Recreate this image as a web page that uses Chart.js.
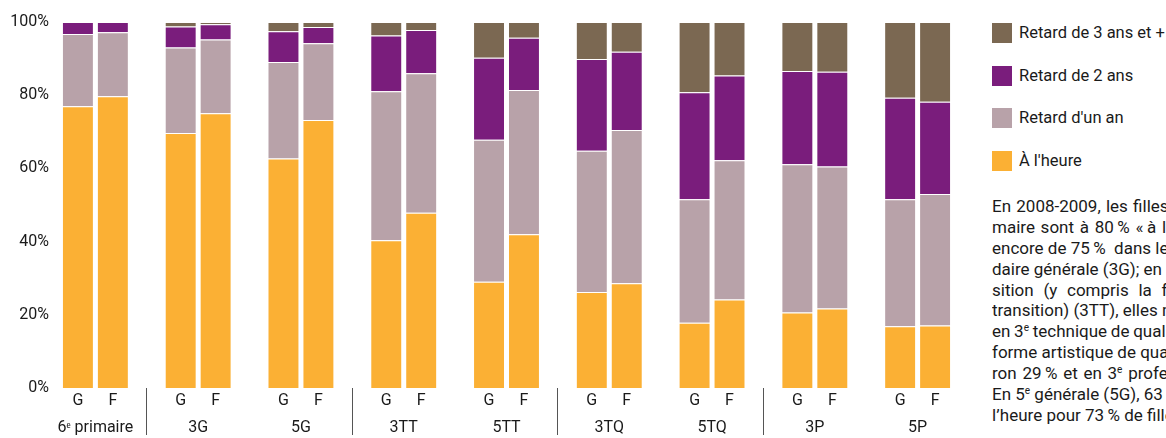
<!DOCTYPE html>
<html><head><meta charset="utf-8">
<script src="https://cdn.jsdelivr.net/npm/chart.js@4.4.1/dist/chart.umd.min.js"></script>
<style>
html,body{margin:0;padding:0;background:#fff;width:1166px;height:438px;overflow:hidden;font-family:Roboto,"Open Sans",sans-serif;color:#1a1a1a}
#wrap{position:absolute;left:0;top:0;width:975px;height:438px}
#legend{position:absolute;left:992px;top:23px;width:174px;height:160px}
.li{position:absolute;left:0;height:20px;white-space:nowrap}
.sw{position:absolute;left:0;top:0;width:20px;height:20px}
.lt{position:absolute;left:27px;top:-1px;font-size:16.5px;line-height:22px}
#para{position:absolute;left:992px;top:196px;width:174px;font-size:17px;line-height:20.9px;overflow:hidden}
#para div{height:20.9px;white-space:nowrap}
.sup{font-size:10px;position:relative;top:-6px}
</style></head>
<body>
<div id="wrap"><canvas id="c" width="975" height="438"></canvas></div>
<div id="legend"></div>
<div id="para">
<div style="word-spacing:1px">En 2008-2009, les filles de 6<span class="sup">e</span> pri-</div>
<div style="word-spacing:1.5px">maire sont à 80&#8201;% «&#8201;à l’heure&#8201;»; elles sont</div>
<div>encore de 75&#8201;%&nbsp; dans le 3<span class="sup">e</span> degré secon-</div>
<div>daire générale (3G); en 3<span class="sup">e</span> technique de tran-</div>
<div style="word-spacing:5.5px">sition (y compris la forme artistique de</div>
<div>transition) (3TT), elles ne sont plus que 48&#8201;%;</div>
<div style="word-spacing:-0.5px">en 3<span class="sup">e</span> technique de qualification (y compris la</div>
<div>forme artistique de qualification) (3TQ), envi-</div>
<div style="word-spacing:1.5px">ron 29&#8201;% et en 3<span class="sup">e</span> professionnelle (3P), 22&#8201;%.</div>
<div>En 5<span class="sup">e</span> générale (5G), 63&#8201;% des garçons sont à</div>
<div>l’heure pour 73&#8201;% de filles; en 5<span class="sup">e</span> tech-</div>
</div>
<script>
const categories = ['6ᵉ primaire','3G','5G','3TT','5TT','3TQ','5TQ','3P','5P'];
const genders = ['G','F'];
const seriesNames = ["À l'heure","Retard d'un an","Retard de 2 ans","Retard de 3 ans et +"];
const yTicks = [0,20,40,60,80,100];

const onTimeG    = [77.0, 69.7, 62.7, 40.4, 29.0, 26.2, 17.8, 20.6, 16.9];
const oneYearG   = [19.7, 23.3, 26.4, 40.7, 38.8, 38.6, 33.8, 40.5, 34.7];
const twoYearsG  = [ 3.3,  5.8,  8.4, 15.2, 22.4, 25.1, 29.2, 25.5, 27.7];
const threePlusG = [ 0.0,  1.2,  2.5,  3.7,  9.8, 10.1, 19.2, 13.4, 20.7];

const onTimeF    = [79.7, 75.1, 73.2, 47.9, 42.0, 28.6, 24.2, 21.7, 17.1];
const oneYearF   = [17.5, 20.1, 21.0, 38.1, 39.4, 41.9, 38.0, 38.8, 35.9];
const twoYearsF  = [ 2.8,  4.2,  4.4, 11.8, 14.3, 21.4, 23.2, 25.9, 25.2];
const threePlusF = [ 0.0,  0.6,  1.4,  2.2,  4.3,  8.1, 14.6, 13.6, 21.8];

const colors = ['#FBB034','#B8A2A9','#7A1D7C','#7B6852'];
const FONT = 'Roboto';
const TEXT = '#1a1a1a';

// HTML legend (top = last series)
const leg = document.getElementById('legend');
[3,2,1,0].forEach((si,k)=>{
  const d = document.createElement('div'); d.className='li'; d.style.top=(k*42.7)+'px';
  d.innerHTML = '<div class="sw" style="background:'+colors[si]+'"></div><div class="lt"></div>';
  d.querySelector('.lt').textContent = seriesNames[si];
  leg.appendChild(d);
});

const gSeries = [onTimeG, oneYearG, twoYearsG, threePlusG];
const fSeries = [onTimeF, oneYearF, twoYearsF, threePlusF];
const datasets = [];
[gSeries, fSeries].forEach((arr, gi)=>{
  arr.forEach((vals, si)=>{
    datasets.push({
      label: seriesNames[si] + ' (' + genders[gi] + ')',
      data: vals,
      stack: genders[gi],
      backgroundColor: colors[si],
      borderColor: 'rgba(255,255,255,0.45)',
      borderWidth: 1,
      categoryPercentage: 0.68,
      barPercentage: 0.914
    });
  });
});

const genderLabels = {
  id:'genderLabels',
  beforeDraw(chart){
    // allow y tick labels to extend slightly past the axis box, as in the original
    chart.scales.y._computeLabelArea = () => undefined;
  },
  afterDraw(chart){
    const ctx = chart.ctx, b = chart.chartArea.bottom;
    ctx.save();
    ctx.font = '16px ' + FONT; ctx.fillStyle = TEXT;
    ctx.textAlign = 'center'; ctx.textBaseline = 'middle';
    [0, 4].forEach((di, k)=>{
      chart.getDatasetMeta(di).data.forEach(el => ctx.fillText(genders[k], el.x, b + 13));
    });
    ctx.restore();
  }
};

new Chart(document.getElementById('c'), {
  type:'bar',
  data:{labels:categories, datasets},
  plugins:[genderLabels],
  options:{
    responsive:false, animation:false,
    layout:{padding:{top:22,right:6,left:0,bottom:0}},
    plugins:{legend:{display:false}, tooltip:{enabled:false}},
    scales:{
      x:{stacked:true, offset:true, border:{display:false},
         grid:{display:true, offset:true, drawOnChartArea:false, drawTicks:true, tickLength:47, lineWidth:1,
               color:(c)=>[1,3,5,7].includes(c.index)?'#555':'rgba(0,0,0,0)'},
         ticks:{padding:-17, font:{size:16,family:FONT}, color:TEXT, maxRotation:0, autoSkip:false},
         afterFit:(s)=>{s.height=50;}
      },
      y:{stacked:true, min:0, max:100, border:{display:false}, grid:{display:false, drawTicks:false},
         afterBuildTicks:(s)=>{s.ticks = yTicks.map(v=>({value:v}));},
         ticks:{padding:-5, callback:v=>v+'%', font:{size:16,family:FONT}, color:TEXT},
         afterFit:(s)=>{s.width=44;}
      }
    }
  }
});
</script>
</body></html>
